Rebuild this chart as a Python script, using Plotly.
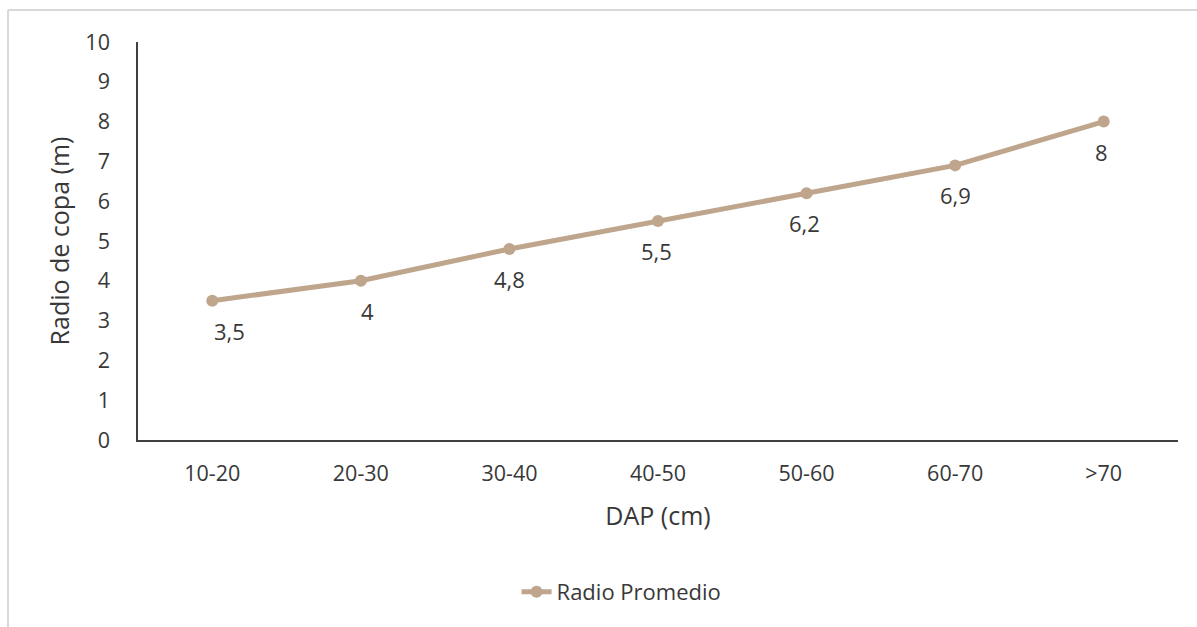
import plotly.graph_objects as go

# DAP classes (cm) and mean crown radius (m)
dap_classes = ["10-20", "20-30", "30-40", "40-50", "50-60", "60-70", ">70"]
radio_promedio = [3.5, 4.0, 4.8, 5.5, 6.2, 6.9, 8.0]
value_labels = ["3,5", "4", "4,8", "5,5", "6,2", "6,9", "8"]
y_ticks = list(range(0, 11))

LINE_COLOR = "#BEA58C"
TEXT_COLOR = "#383838"
FONT = "Open Sans"

fig = go.Figure()
fig.add_trace(go.Scatter(
    x=dap_classes,
    y=radio_promedio,
    mode="lines+markers",
    name="Radio Promedio",
    line=dict(color=LINE_COLOR, width=5),
    marker=dict(color=LINE_COLOR, size=12),
    hoverinfo="skip",
))

# value labels under each point
label_xshift = [17, 7, 0, -2, -2, 0, -2]
for cat, val, txt, dx in zip(dap_classes, radio_promedio, value_labels, label_xshift):
    fig.add_annotation(
        x=cat, y=val, text=txt, showarrow=False,
        xshift=dx, yshift=-30,
        font=dict(family=FONT, size=22, color=TEXT_COLOR),
    )

# light frame around the chart area
fig.add_shape(type="line", xref="paper", yref="paper",
              x0=-0.125, x1=1.1, y0=1.0804, y1=1.0804,
              line=dict(color="#D9D9D9", width=2))
fig.add_shape(type="line", xref="paper", yref="paper",
              x0=-0.125, x1=-0.125, y0=1.0804, y1=-0.6,
              line=dict(color="#D9D9D9", width=2))

fig.update_layout(
    width=1197,
    height=627,
    margin=dict(l=138, r=19, t=42, b=187),
    paper_bgcolor="white",
    plot_bgcolor="white",
    font=dict(family=FONT, size=21, color=TEXT_COLOR),
    showlegend=True,
    legend=dict(
        orientation="h",
        x=0.364, xanchor="left",
        y=-0.382, yanchor="middle",
        font=dict(family=FONT, size=22, color=TEXT_COLOR),
        bgcolor="rgba(0,0,0,0)",
    ),
    xaxis=dict(
        type="category",
        categoryorder="array",
        categoryarray=dap_classes,
        range=[-0.5, len(dap_classes) - 0.5],
        showline=True, linecolor="#404040", linewidth=1.5,
        showgrid=False, zeroline=False,
        ticks="", ticklabelstandoff=13,
        tickfont=dict(family=FONT, size=21.5, color=TEXT_COLOR),
        title=dict(text="DAP (cm)", standoff=22,
                   font=dict(family=FONT, size=25, color=TEXT_COLOR)),
        fixedrange=True,
    ),
    yaxis=dict(
        range=[0, 10],
        tickvals=y_ticks,
        showline=True, linecolor="#404040", linewidth=1.5,
        showgrid=False, zeroline=False,
        ticks="", ticklabelstandoff=22,
        tickfont=dict(family=FONT, size=21.5, color=TEXT_COLOR),
        title=dict(text="Radio de copa (m)", standoff=9,
                   font=dict(family=FONT, size=25, color=TEXT_COLOR)),
        fixedrange=True,
    ),
)

fig.write_html("out.html")
